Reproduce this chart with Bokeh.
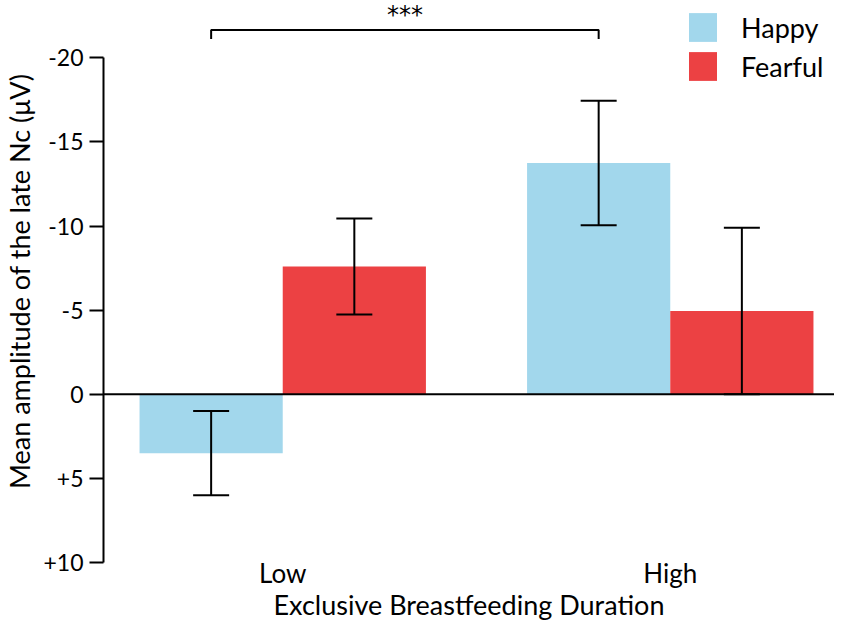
from bokeh.plotting import figure
from bokeh.models import (ColumnDataSource, Range1d, FixedTicker, CustomJSTickFormatter,
                          Whisker, TeeHead, Span, Legend, LegendItem)
from bokeh.core.properties import value
from bokeh.embed import file_html
from bokeh.resources import INLINE

# ---------------- data ----------------
groups = ["Low", "High"]
conditions = ["Happy", "Fearful"]
happy_mean = [3.5, -13.75]
happy_sem = [2.5, 3.7]
fearful_mean = [-7.6, -4.95]
fearful_sem = [2.85, 4.95]
y_ticks = [-20, -15, -10, -5, 0, 5, 10]
x_title = "Exclusive Breastfeeding Duration"
y_title = "Mean amplitude of the late Nc (μV)"
significance = "***"
comparison = (("Low", "Happy"), ("High", "Happy"))

# ---------------- style ----------------
colors = {"Happy": "#A2D7EC", "Fearful": "#EC4143"}
bar_width = 0.3695
offsets = {"Happy": -bar_width / 2, "Fearful": bar_width / 2}
FONT = "Lato"
bracket_level = -21.65
bracket_drop = 0.53
star_level = -22.55

W, H = 834, 623
p = figure(width=W, height=H, output_backend="svg", toolbar_location=None,
           x_range=Range1d(-0.4625, 1.4238), y_range=Range1d(10, -23.41),
           min_border_left=96, min_border_right=0, min_border_top=0, min_border_bottom=55)
p.outline_line_color = None
p.xgrid.visible = False
p.ygrid.visible = False
p.background_fill_color = "white"

series = {"Happy": (happy_mean, happy_sem), "Fearful": (fearful_mean, fearful_sem)}
renderers = {}
for cond in conditions:
    means, sems = series[cond]
    src = ColumnDataSource(dict(
        x=[i + offsets[cond] for i in range(len(groups))],
        mean=means,
        upper=[m + s for m, s in zip(means, sems)],
        lower=[m - s for m, s in zip(means, sems)],
    ))
    r = p.vbar(x="x", top="mean", bottom=0, width=bar_width, source=src,
               fill_color=colors[cond], line_color=None)
    renderers[cond] = r
    w = Whisker(base="x", upper="upper", lower="lower", source=src, dimension="height",
                line_color="black", line_width=2, level="annotation",
                upper_head=TeeHead(size=36, line_width=2, line_color="black"),
                lower_head=TeeHead(size=36, line_width=2, line_color="black"))
    p.add_layout(w)

p.add_layout(Span(location=0, dimension="width", line_color="black", line_width=2))

# significance bracket
(g1, c1), (g2, c2) = comparison
xa = groups.index(g1) + offsets[c1]
xb = groups.index(g2) + offsets[c2]
p.line(x=[xa, xa, xb, xb],
       y=[bracket_level + bracket_drop, bracket_level, bracket_level, bracket_level + bracket_drop],
       line_color="black", line_width=2)
p.text(x=[(xa + xb) / 2], y=[star_level], text=[significance], text_align="center",
       text_baseline="alphabetic", text_font=value("DejaVu Sans"), text_font_size="24px",
       text_color="black")

# y axis
ya = p.yaxis[0]
ya.ticker = FixedTicker(ticks=y_ticks)
ya.formatter = CustomJSTickFormatter(code="return (tick > 0 ? '+' : '') + tick.toFixed(0);")
ya.bounds = (min(y_ticks), max(y_ticks))
ya.axis_line_width = 2
ya.axis_line_color = "black"
ya.major_tick_line_width = 2
ya.major_tick_line_color = "black"
ya.major_tick_out = 14
ya.major_tick_in = 0
ya.minor_tick_line_color = None
ya.major_label_standoff = 6
ya.major_label_text_font = FONT
ya.major_label_text_font_size = "23px"
ya.major_label_text_color = "black"
ya.axis_label = y_title
ya.axis_label_text_font = FONT
ya.axis_label_text_font_size = "27px"
ya.axis_label_text_font_style = "normal"
ya.axis_label_text_color = "black"
ya.axis_label_standoff = 4

# x axis
xa_ax = p.xaxis[0]
xa_ax.ticker = FixedTicker(ticks=list(range(len(groups))))
xa_ax.major_label_overrides = {i: g for i, g in enumerate(groups)}
xa_ax.axis_line_color = None
xa_ax.major_tick_line_color = None
xa_ax.major_tick_out = 0
xa_ax.major_tick_in = 0
xa_ax.minor_tick_line_color = None
xa_ax.major_label_standoff = -6
xa_ax.major_label_text_font = FONT
xa_ax.major_label_text_font_size = "26px"
xa_ax.major_label_text_color = "black"
xa_ax.axis_label = x_title
xa_ax.axis_label_text_font = FONT
xa_ax.axis_label_text_font_size = "27px"
xa_ax.axis_label_text_font_style = "normal"
xa_ax.axis_label_text_color = "black"
xa_ax.axis_label_standoff = -4

legend = Legend(items=[LegendItem(label=c, renderers=[renderers[c]]) for c in conditions],
                location=(582, 478), orientation="vertical",
                glyph_width=35, glyph_height=36, spacing=3, padding=0, margin=0,
                label_standoff=21, label_text_font=FONT, label_text_font_size="27px",
                label_text_color="black", border_line_color=None, background_fill_alpha=0)
p.add_layout(legend)

open("out.html", "w").write(file_html(p, INLINE))
